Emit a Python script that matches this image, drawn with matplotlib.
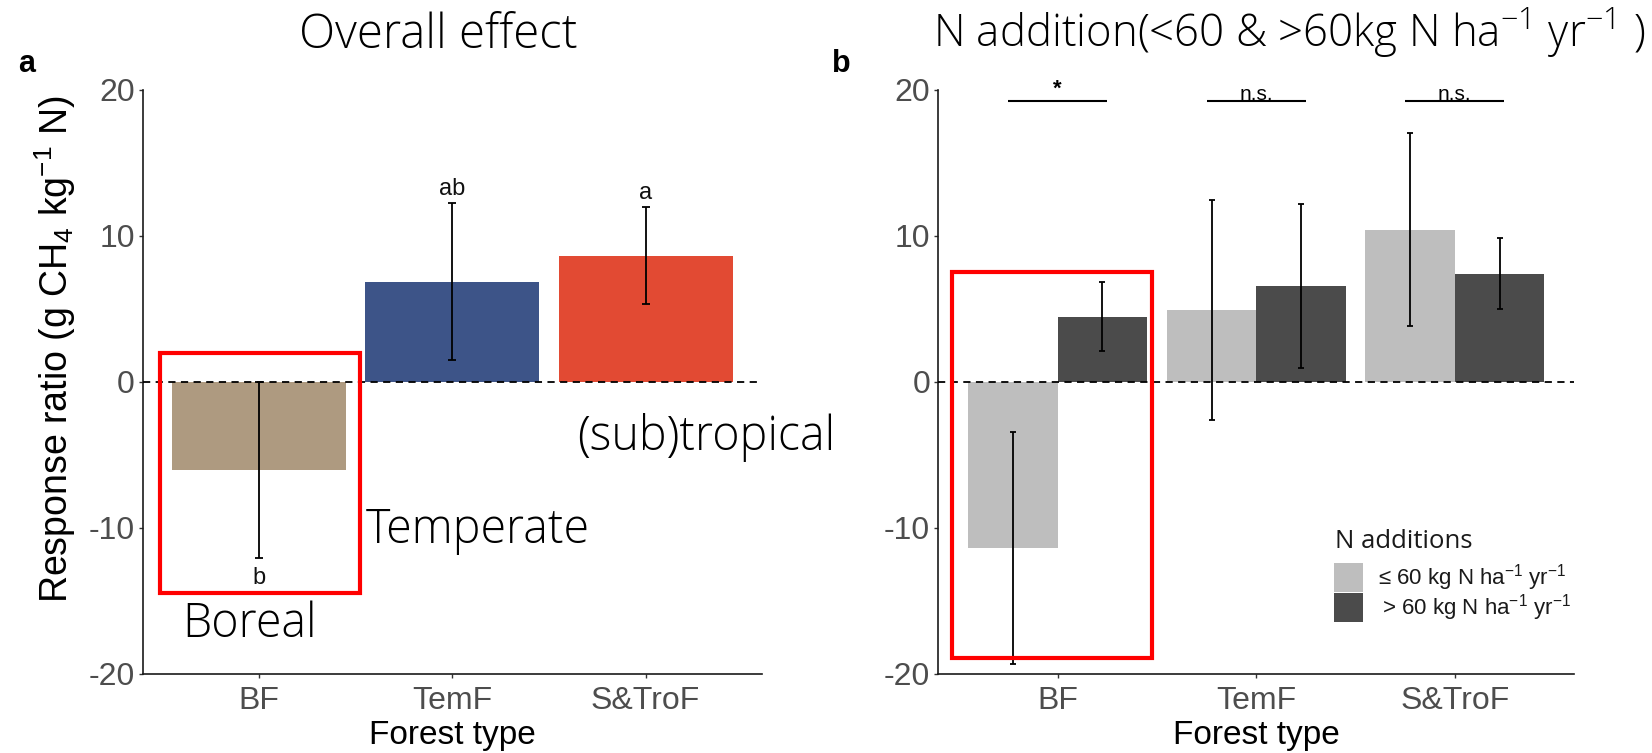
import matplotlib
matplotlib.use("Agg")
import matplotlib.pyplot as plt
from matplotlib.patches import Rectangle
from matplotlib.font_manager import FontProperties, findfont
import numpy as np

plt.rcParams['font.family'] = ['Liberation Sans', 'DejaVu Sans']
plt.rcParams['mathtext.default'] = 'regular'

# ---- data -------------------------------------------------------------
categories = ["BF", "TemF", "S&TroF"]

overall_mean = [-6.06, 6.83, 8.60]
overall_err = [6.00, 5.38, 3.32]
overall_letters = ["b", "ab", "a"]
overall_colors = ["#AE9A80", "#3D5488", "#E24A33"]

low_mean = [-11.43, 4.90, 10.40]
low_err = [7.95, 7.55, 6.60]
high_mean = [4.45, 6.55, 7.37]
high_err = [2.37, 5.60, 2.43]
sig_labels = ["*", "n.s.", "n.s."]
sig_y = 19.2

legend_title = "N additions"
dose_labels = ["\u2264 60 kg N ha$^{-1}$ yr$^{-1}$", "> 60 kg N ha$^{-1}$ yr$^{-1}$"]
dose_colors = ["#BEBEBE", "#4B4B4B"]

yticks = [-20, -10, 0, 10, 20]

# ---- layout helpers (pixel based) ------------------------------------
W, H = 1652, 753
fig = plt.figure(figsize=(W / 100, H / 100), dpi=100)


def px_axes(left, top, right, bottom):
    return fig.add_axes([left / W, 1 - bottom / H, (right - left) / W, (bottom - top) / H])


def fx(x):
    return x / W


def fy(y):
    return 1 - y / H


def light_family():
    # first installed family that ships a real light face
    for fam in ["Open Sans", "Lato", "Roboto", "Inter", "Noto Sans"]:
        path = findfont(FontProperties(family=fam, weight=300), fallback_to_default=False)
        if "light" in path.lower():
            return fam
    return "Open Sans"


THIN_FAMILY = light_family()


def thin(size):
    return FontProperties(family=[THIN_FAMILY, 'DejaVu Sans'], weight=300, size=size)


tick_color = "#4D4D4D"
x = np.arange(1, len(categories) + 1)


def style(ax):
    ax.set_xlim(0.4, 3.6)
    ax.set_ylim(-20, 20)
    ax.set_yticks(yticks)
    ax.set_yticklabels([str(v) for v in yticks])
    ax.set_xticks(x)
    ax.set_xticklabels(categories)
    for s in ("top", "right"):
        ax.spines[s].set_visible(False)
    for s in ("left", "bottom"):
        ax.spines[s].set_linewidth(1.2)
        ax.spines[s].set_color("#1A1A1A")
    ax.tick_params(axis="both", length=3, width=1.0, color="#333333",
                   labelsize=23, labelcolor=tick_color)
    ax.tick_params(axis="x", pad=6)
    ax.tick_params(axis="y", pad=3)
    ax.axhline(0, color="black", lw=1.3, ls=(0, (4, 3)), zorder=3)
    ax.set_xlabel("Forest type", fontsize=24, color="black", labelpad=3)


# ---- panel a: overall effect -------------------------------------------
ax_a = px_axes(143.3, 89.5, 761.5, 673.5)
style(ax_a)
ax_a.bar(x, overall_mean, width=0.9, color=overall_colors, zorder=2)
ax_a.errorbar(x, overall_mean, yerr=overall_err, fmt="none", ecolor="black",
              elinewidth=1.3, capsize=3, capthick=1.3, zorder=4)
for xi, m, e, lab in zip(x, overall_mean, overall_err, overall_letters):
    if m >= 0:
        ax_a.annotate(lab, (xi, m + e), xytext=(0, 6), textcoords="offset points",
                      ha="center", va="baseline", fontsize=17, color="#111111")
    else:
        ax_a.annotate(lab, (xi, m - e), xytext=(0, -7), textcoords="offset points",
                      ha="center", va="top", fontsize=17, color="#111111")

# ---- panel b: N addition rate -------------------------------------------
ax_b = px_axes(938.5, 89.5, 1574.0, 673.5)
style(ax_b)
bw = 0.45
ax_b.bar(x - bw / 2, low_mean, width=bw, color=dose_colors[0], zorder=2)
ax_b.bar(x + bw / 2, high_mean, width=bw, color=dose_colors[1], zorder=2)
ax_b.errorbar(x - bw / 2, low_mean, yerr=low_err, fmt="none", ecolor="black",
              elinewidth=1.3, capsize=2.5, capthick=1.3, zorder=4)
ax_b.errorbar(x + bw / 2, high_mean, yerr=high_err, fmt="none", ecolor="black",
              elinewidth=1.3, capsize=2.5, capthick=1.3, zorder=4)
ax_b.hlines([sig_y] * len(x), x - 0.25, x + 0.25, color="black", lw=1.5, zorder=4)
for xi, lab in zip(x, sig_labels):
    if lab == "*":
        ax_b.annotate(lab, (xi, sig_y), xytext=(0, 1), textcoords="offset points",
                      ha="center", va="bottom", fontsize=16, fontweight="bold")
    else:
        ax_b.annotate(lab, (xi, sig_y), xytext=(0, 1), textcoords="offset points",
                      ha="center", va="baseline", fontsize=15)

# ---- legend: title, stacked square keys, labels -------------------------
key_left, key_top, key_size, key_step = 1333.5, 563.0, 29.0, 30.0
fig.text(fx(1335), fy(548), legend_title, ha="left", va="baseline",
         fontproperties=FontProperties(family=['Open Sans', 'DejaVu Sans'], size=18.5),
         color="#1A1A1A")
for i, (lab, col) in enumerate(zip(dose_labels, dose_colors)):
    top = key_top + i * key_step
    fig.add_artist(Rectangle((fx(key_left), fy(top + key_size)), key_size / W, key_size / H,
                             transform=fig.transFigure, facecolor=col, edgecolor="none"))
    fig.text(fx(key_left + key_size + 16 + 3 * i), fy(top + key_size / 2), lab, ha="left",
             va="center", fontsize=16, color="#1A1A1A")

# ---- highlight boxes ----------------------------------------------------
ax_a.add_patch(Rectangle((0.484, -14.47), 1.523 - 0.484, 1.97 + 14.47, fill=False,
                         edgecolor="#FF0000", lw=3, clip_on=False, zorder=6))
ax_b.add_patch(Rectangle((0.466, -18.96), 1.474 - 0.466, 7.52 + 18.96, fill=False,
                         edgecolor="#FF0000", lw=3, clip_on=False, zorder=6))

# ---- titles, region names, labels --------------------------------------
fig.text(fx(438), fy(48), "Overall effect", ha="center", va="baseline",
         fontproperties=thin(34))
fig.text(fx(1289), fy(47), "N addition(<60 & >60kg N ha$^{-1}$ yr$^{-1}$ )",
         ha="center", va="baseline", fontproperties=thin(31.5))
fig.text(fx(182), fy(637), "Boreal", ha="left", va="baseline", fontproperties=thin(33.5))
fig.text(fx(366), fy(543), "Temperate", ha="left", va="baseline", fontproperties=thin(33.5))
fig.text(fx(577), fy(450), "(sub)tropical", ha="left", va="baseline", fontproperties=thin(33.5))

fig.text(fx(18), fy(72), "a", ha="left", va="baseline", fontsize=22, fontweight="bold")
fig.text(fx(832), fy(72), "b", ha="left", va="baseline", fontsize=22, fontweight="bold")

fig.text(fx(55), fy(349), "Response ratio (g CH$_4$ kg$^{-1}$ N)", rotation=90,
         ha="center", va="center", fontsize=27, color="black")

fig.savefig("out.png", dpi=100)
